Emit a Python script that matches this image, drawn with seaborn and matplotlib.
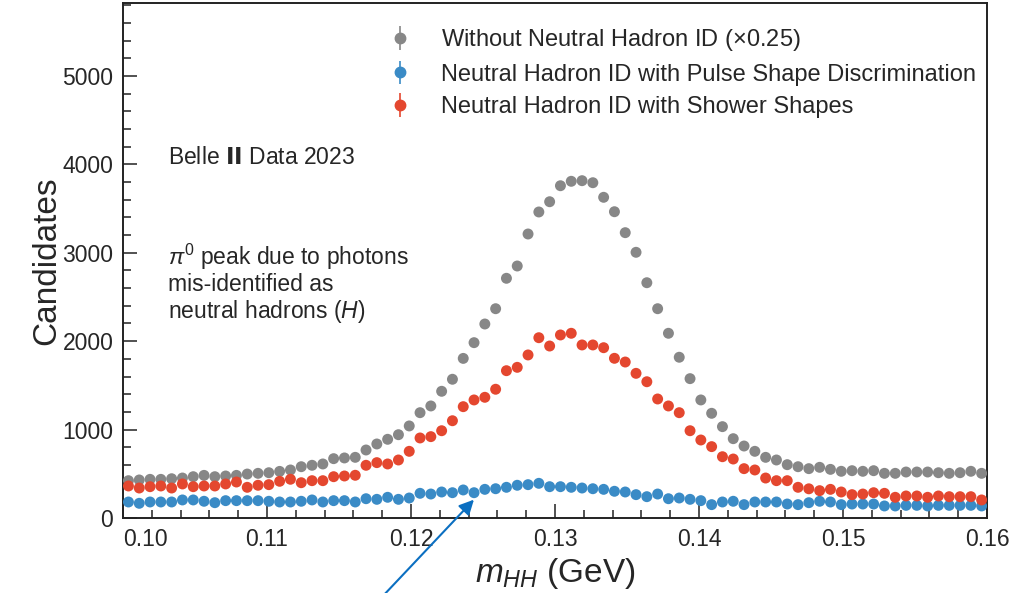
import numpy as np
import pandas as pd
import matplotlib
matplotlib.use('Agg')
import matplotlib.pyplot as plt
from matplotlib.legend_handler import HandlerTuple
from matplotlib.lines import Line2D
import seaborn as sns

# binning of the m_HH axis (GeV)
mass_lo, mass_hi, n_bins = 0.10, 0.16, 80
edges = np.linspace(mass_lo, mass_hi, n_bins + 1)
mass = (edges[:-1] + edges[1:]) / 2

# candidates per bin (grey already scaled by 0.25)
no_id_scaled = [422, 430, 437, 437, 444, 452, 467, 482, 467, 475, 482, 497, 505, 512, 527, 543,
                580, 596, 611, 671, 679, 686, 769, 837, 890, 942, 1041, 1191, 1267, 1433, 1569, 1805,
                1983, 2194, 2367, 2711, 2850, 3212, 3461, 3577, 3758, 3808, 3815, 3792, 3627, 3464, 3227, 3005,
                2661, 2367, 2089, 1818, 1576, 1335, 1184, 1033, 897, 814, 754, 686, 656, 603, 580, 558,
                573, 550, 528, 535, 528, 535, 505, 505, 520, 520, 520, 512, 505, 512, 528, 505]
psd_id = [181, 166, 181, 181, 181, 204, 204, 189, 173, 196, 196, 196, 196, 189, 181, 181,
          189, 204, 181, 196, 196, 181, 218, 211, 234, 211, 226, 279, 271, 294, 286, 317,
          286, 324, 331, 347, 370, 377, 392, 354, 354, 347, 339, 331, 324, 302, 294, 264,
          241, 271, 218, 226, 211, 196, 151, 181, 189, 151, 181, 181, 181, 158, 151, 173,
          189, 181, 151, 158, 158, 158, 136, 136, 143, 143, 136, 143, 143, 143, 143, 136]
shower_id = [362, 339, 354, 362, 339, 385, 354, 362, 362, 385, 407, 347, 370, 377, 415, 438,
             399, 422, 422, 467, 475, 483, 596, 626, 611, 656, 754, 905, 920, 987, 1100, 1259,
             1335, 1365, 1456, 1666, 1704, 1844, 2039, 1945, 2070, 2089, 1957, 1957, 1926, 1806, 1764, 1636,
             1541, 1346, 1267, 1191, 987, 882, 807, 693, 667, 558, 543, 452, 422, 422, 347, 330,
             309, 324, 294, 264, 271, 286, 279, 234, 249, 249, 234, 249, 241, 241, 241, 204]

labels = ['Without Neutral Hadron ID ($\\times$0.25)',
          'Neutral Hadron ID with Pulse Shape Discrimination',
          'Neutral Hadron ID with Shower Shapes']
colors = ['#878787', '#3a8bc6', '#e4472f']

df = pd.concat([
    pd.DataFrame({'mass': mass, 'cands': no_id_scaled, 'err': 0.5 * np.sqrt(no_id_scaled), 'sel': labels[0]}),
    pd.DataFrame({'mass': mass, 'cands': psd_id, 'err': np.sqrt(psd_id), 'sel': labels[1]}),
    pd.DataFrame({'mass': mass, 'cands': shower_id, 'err': np.sqrt(shower_id), 'sel': labels[2]}),
])

sns.set_style('ticks')
plt.rcParams['font.family'] = ['Liberation Sans', 'DejaVu Sans']
plt.rcParams['mathtext.fontset'] = 'custom'
plt.rcParams['mathtext.rm'] = 'Liberation Sans'
plt.rcParams['mathtext.it'] = 'Liberation Sans:italic'

fig = plt.figure(figsize=(10.11, 5.93), dpi=100)
ax = fig.add_axes([0.1217, 0.1265, 0.8546, 0.8685])

handles = []
for lab, c in zip(labels, colors):
    d = df[df['sel'] == lab]
    eb = ax.errorbar(d['mass'], d['cands'], yerr=d['err'], fmt='none', ecolor=c, elinewidth=1.2, zorder=2)
    handles.append((eb, Line2D([], [], ls='none', marker='o', ms=7.5, color=c)))

sns.scatterplot(data=df, x='mass', y='cands', hue='sel', palette=dict(zip(labels, colors)),
                s=62, linewidth=0, legend=False, ax=ax, zorder=3)

ax.set_xlim(mass_lo, mass_hi)
ax.set_ylim(0, 5825)
ax.set_xticks([0.10, 0.11, 0.12, 0.13, 0.14, 0.15, 0.16])
ax.set_xticklabels(['0.10', '0.11', '0.12', '0.13', '0.14', '0.15', '0.16'])
ax.set_xticks(np.arange(0.10, 0.1601, 0.002), minor=True)
ax.set_yticks([0, 1000, 2000, 3000, 4000, 5000])
ax.set_yticks(np.arange(0, 5801, 200), minor=True)
ax.tick_params(which='both', direction='in', color='#222222', labelsize=16.5, width=1.1)
ax.tick_params(which='major', length=10, pad=7)
ax.tick_params(which='minor', length=6)
ax.get_xticklabels()[0].set_horizontalalignment('left')
for sp in ax.spines.values():
    sp.set_visible(True)
    sp.set_linewidth(1.4)
    sp.set_color('#222222')

ax.set_xlabel('$m_{HH}$ (GeV)', fontsize=24, labelpad=4)
ax.set_ylabel('Candidates', fontsize=24, labelpad=0)

ax.legend(handles, labels, loc='upper left', bbox_to_anchor=(0.296, 0.971), borderaxespad=0,
          frameon=False, fontsize=17, handlelength=1.0, handletextpad=1.24, labelspacing=0.44,
          handler_map={tuple: HandlerTuple(ndivide=1)})

ax.text(0.052, 0.699, 'Belle $\\mathbf{II}$ Data 2023', transform=ax.transAxes, fontsize=16.5, va='center')
ax.text(0.052, 0.536, '$\\pi^0$ peak due to photons\nmis-identified as\nneutral hadrons ($H$)',
        transform=ax.transAxes, fontsize=16.5, va='top', linespacing=1.07)

ax.annotate('', xy=(0.1245, 230), xycoords='data', xytext=(0.376, -0.01), textcoords='figure fraction',
            arrowprops=dict(arrowstyle='-|>', color='#0b6fc1', lw=1.5, mutation_scale=22), annotation_clip=False)

fig.savefig('out.png', dpi=100)
